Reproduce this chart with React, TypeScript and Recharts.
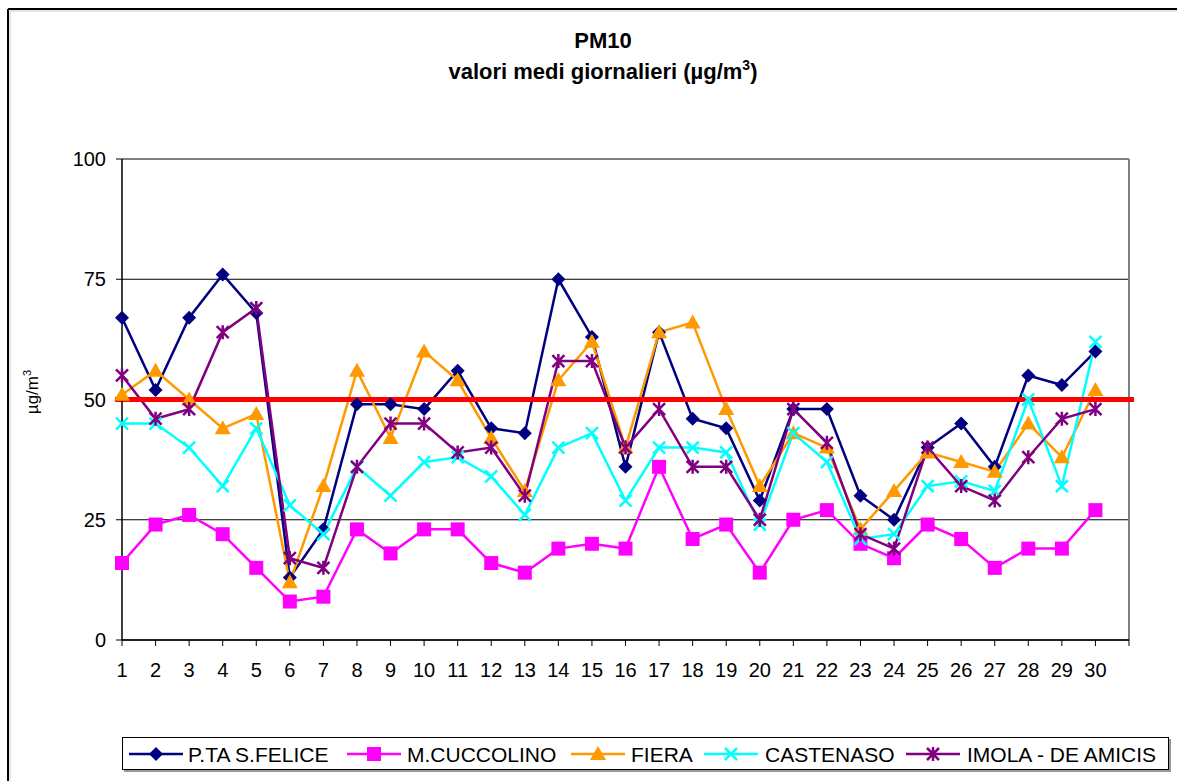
import { LineChart, Line, XAxis, YAxis, CartesianGrid, ReferenceLine } from 'recharts';

// giorni del mese (31 senza dati)
const days = [
  '1', '2', '3', '4', '5', '6', '7', '8', '9', '10', '11', '12', '13', '14', '15', '16',
  '17', '18', '19', '20', '21', '22', '23', '24', '25', '26', '27', '28', '29', '30', '31',
];

const sFelice = [67, 52, 67, 76, 68, 13, 23, 49, 49, 48, 56, 44, 43, 75, 63, 36, 64, 46, 44, 29, 48, 48, 30, 25, 40, 45, 36, 55, 53, 60, null];
const cuccolino = [16, 24, 26, 22, 15, 8, 9, 23, 18, 23, 23, 16, 14, 19, 20, 19, 36, 21, 24, 14, 25, 27, 20, 17, 24, 21, 15, 19, 19, 27, null];
const fiera = [51, 56, 50, 44, 47, 12, 32, 56, 42, 60, 54, 42, 31, 54, 62, 40, 64, 66, 48, 32, 43, 40, 23, 31, 39, 37, 35, 45, 38, 52, null];
const castenaso = [45, 45, 40, 32, 44, 28, 22, 36, 30, 37, 38, 34, 26, 40, 43, 29, 40, 40, 39, 24, 43, 37, 21, 22, 32, 33, 31, 50, 32, 62, null];
const imola = [55, 46, 48, 64, 69, 17, 15, 36, 45, 45, 39, 40, 30, 58, 58, 40, 48, 36, 36, 25, 48, 41, 22, 19, 40, 32, 29, 38, 46, 48, null];

const yTicks = [0, 25, 50, 75, 100];
const limitValue = 50;

const series = [
  { key: 'sFelice', name: 'P.TA S.FELICE', color: '#000080', marker: 'diamond' },
  { key: 'cuccolino', name: 'M.CUCCOLINO', color: '#FF00FF', marker: 'square' },
  { key: 'fiera', name: 'FIERA', color: '#FF9900', marker: 'triangle' },
  { key: 'castenaso', name: 'CASTENASO', color: '#00FFFF', marker: 'x' },
  { key: 'imola', name: 'IMOLA - DE AMICIS', color: '#800080', marker: 'star' },
];

const chartData = days.map((d, i) => ({
  day: d,
  sFelice: sFelice[i],
  cuccolino: cuccolino[i],
  fiera: fiera[i],
  castenaso: castenaso[i],
  imola: imola[i],
}));

// posizioni della legenda (relative al riquadro)
const legendPos = [
  { icon: 7, text: 66 },
  { icon: 225, text: 285 },
  { icon: 449, text: 509 },
  { icon: 582, text: 643 },
  { icon: 784, text: 845 },
];

const FONT = 'Arial, "Liberation Sans", sans-serif';

function Marker({ type, color, cx, cy }: { type: string; color: string; cx: number; cy: number }) {
  if (type === 'diamond') {
    return <polygon points={`${cx},${cy - 7} ${cx + 7},${cy} ${cx},${cy + 7} ${cx - 7},${cy}`} fill={color} />;
  }
  if (type === 'square') {
    return <rect x={cx - 7} y={cy - 7} width={14} height={14} fill={color} />;
  }
  if (type === 'triangle') {
    return <polygon points={`${cx},${cy - 8} ${cx + 8},${cy + 6} ${cx - 8},${cy + 6}`} fill={color} />;
  }
  if (type === 'x') {
    return (
      <path
        d={`M${cx - 6},${cy - 6}L${cx + 6},${cy + 6}M${cx - 6},${cy + 6}L${cx + 6},${cy - 6}`}
        stroke={color}
        strokeWidth={2.5}
        fill="none"
      />
    );
  }
  return (
    <path
      d={`M${cx - 6},${cy - 6}L${cx + 6},${cy + 6}M${cx - 6},${cy + 6}L${cx + 6},${cy - 6}M${cx},${cy - 7}L${cx},${cy + 7}`}
      stroke={color}
      strokeWidth={2.5}
      fill="none"
    />
  );
}

function renderDot(type: string, color: string) {
  return (p: any) => {
    if (p.cy == null || p.value == null) return <g key={`e-${p.index}`} />;
    return (
      <g key={`m-${p.index}`}>
        <Marker type={type} color={color} cx={p.cx} cy={p.cy} />
      </g>
    );
  };
}

function LimitLine(p: any) {
  return <line x1={p.x1 - 7} x2={p.x2 + 5} y1={p.y1} y2={p.y2} stroke="#FF0000" strokeWidth={5} />;
}

export default function App() {
  return (
    <div style={{ position: 'absolute', left: 0, top: 0, width: 1177, height: 781, background: '#fff', overflow: 'hidden' }}>
      <LineChart
        width={1177}
        height={781}
        data={chartData}
        margin={{ top: 159, right: 48, bottom: 111, left: 62 }}
      >
        <CartesianGrid vertical={false} stroke="#000" strokeWidth={1} />
        <XAxis
          dataKey="day"
          interval={0}
          tickFormatter={(v) => (v === '31' ? '' : v)}
          tick={{ fontSize: 20, fill: '#000', fontFamily: FONT }}
          axisLine={{ stroke: '#000', strokeWidth: 1.5 }}
          tickLine={{ stroke: '#000' }}
          tickSize={6}
          tickMargin={17}
          height={30}
        />
        <YAxis
          domain={[0, 100]}
          ticks={yTicks}
          interval={0}
          tick={{ fontSize: 20, fill: '#000', fontFamily: FONT }}
          axisLine={{ stroke: '#000', strokeWidth: 1.5 }}
          tickLine={{ stroke: '#000' }}
          tickSize={6}
          tickMargin={10}
          width={60}
        />
        <ReferenceLine y={100} stroke="#808080" strokeWidth={2} />
        <ReferenceLine x="31" stroke="#808080" strokeWidth={2} />
        {series.map((s) => (
          <Line
            key={s.key}
            type="linear"
            dataKey={s.key}
            name={s.name}
            stroke={s.color}
            strokeWidth={2.5}
            dot={renderDot(s.marker, s.color)}
            activeDot={false}
            isAnimationActive={false}
          />
        ))}
        <ReferenceLine y={limitValue} shape={LimitLine} />
      </LineChart>

      <svg
        width={1177}
        height={781}
        style={{ position: 'absolute', left: 0, top: 0, pointerEvents: 'none' }}
        fontFamily={FONT}
      >
        {/* cornice esterna */}
        <line x1={8} y1={9} x2={1177} y2={9} stroke="#000" strokeWidth={2} />
        <line x1={8} y1={9} x2={8} y2={781} stroke="#000" strokeWidth={2} />
        <line x1={10} y1={11} x2={1177} y2={11} stroke="#ccc" strokeWidth={1} />
        <line x1={10} y1={11} x2={10} y2={781} stroke="#ccc" strokeWidth={1} />

        <text x={603} y={48} textAnchor="middle" fontSize={22} fontWeight="bold">PM10</text>
        <text x={603} y={79} textAnchor="middle" fontSize={22} fontWeight="bold">
          valori medi giornalieri (µg/m<tspan fontSize={14} dy={-9}>3</tspan><tspan dy={9}>)</tspan>
        </text>

        <text transform="translate(38,392) rotate(-90)" textAnchor="middle" fontSize={17}>
          µg/m<tspan fontSize={11} dy={-7}>3</tspan>
        </text>

        <g transform="translate(122,737)">
          <rect x={2} y={2} width={1047} height={33} fill="#999" />
          <rect x={0.5} y={0.5} width={1046} height={32} fill="#fff" stroke="#000" strokeWidth={1} />
          {series.map((s, i) => {
            const pos = legendPos[i];
            return (
              <g key={s.key}>
                <line x1={pos.icon} x2={pos.icon + 54} y1={17} y2={17} stroke={s.color} strokeWidth={2.5} />
                <Marker type={s.marker} color={s.color} cx={pos.icon + 27} cy={17} />
                <text x={pos.text} y={24.5} fontSize={21}>{s.name}</text>
              </g>
            );
          })}
        </g>
      </svg>
    </div>
  );
}
